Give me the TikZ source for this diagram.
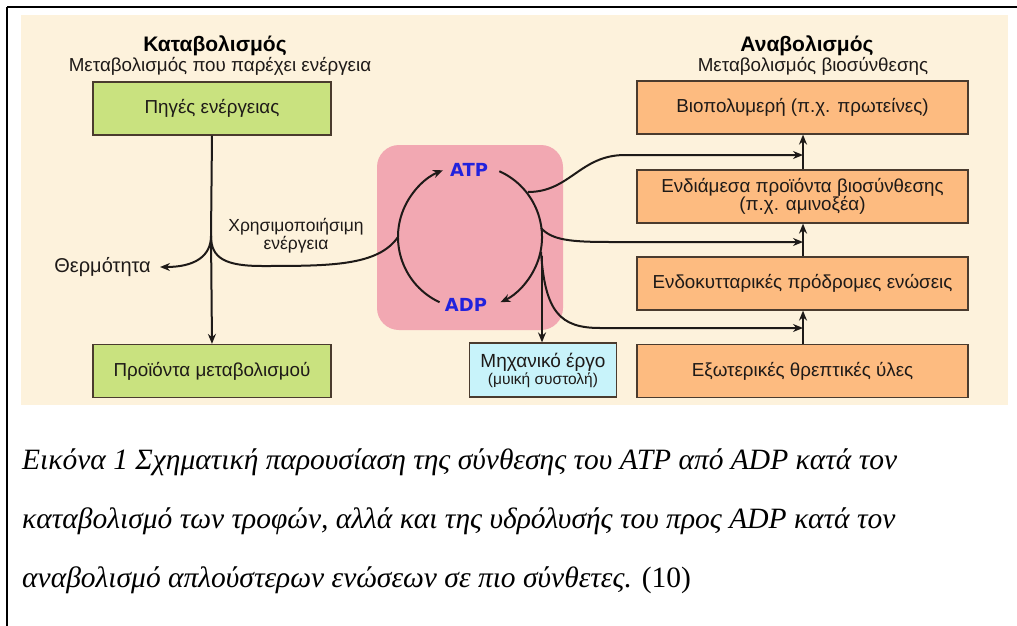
\documentclass[tikz,border=0pt]{standalone}
\usepackage{fontspec}
\setmainfont{Liberation Serif}
\newfontfamily\dsans{Liberation Sans}
\newfontfamily\vsans{DejaVu Sans}
\usetikzlibrary{arrows.meta,calc}
\definecolor{cream}{HTML}{FDF2DC}
\definecolor{greenbox}{HTML}{C9E27F}
\definecolor{orangebox}{HTML}{FDBB80}
\definecolor{pinkbg}{HTML}{F2A8B2}
\definecolor{cyanbox}{HTML}{C8F3FA}
\definecolor{edge}{HTML}{4A3B2E}
\definecolor{atpblue}{HTML}{2222DD}
\definecolor{ink}{HTML}{1E1A18}
\tikzset{
  box/.style={draw=edge, line width=1.2pt, inner sep=0pt, align=center, text=ink, font=\dsans\fontsize{18.8}{21}\selectfont},
  gbox/.style={box, fill=greenbox, minimum width=238pt, minimum height=53pt},
  obox/.style={box, fill=orangebox, minimum width=331pt, minimum height=53pt},
  conn/.style={draw=ink, line width=2pt, -{Stealth[length=10pt,width=8pt]}},
  plain/.style={draw=ink, line width=2pt},
  lbl/.style={font=\dsans\fontsize{18.8}{21}\selectfont, text=ink, inner sep=0pt},
  ttl/.style={font=\dsans\bfseries\fontsize{21}{24}\selectfont, text=black, inner sep=0pt},
  mol/.style={font=\vsans\bfseries\fontsize{18}{20}\selectfont, text=atpblue, inner sep=0pt},
  captionline/.style={font=\fontsize{29.5}{32}\selectfont\itshape, anchor=west, inner sep=0pt}
}
\begin{document}
\begin{tikzpicture}[x=1pt,y=-1pt]
\useasboundingbox (0,0) rectangle (1017,626);
\fill[white] (0,0) rectangle (1017,626);
% frame
\draw[black, line width=2.6pt] (7,7) -- (1017,7);
\draw[black, line width=2.6pt] (7,7) -- (7,626);
% background
\fill[cream] (21,15) rectangle (1008,405);
% headings
\node[ttl] (katT) at (215,46) {Καταβολισμός};
\node[lbl] (katS) at (220,66) {Μεταβολισμός που παρέχει ενέργεια};
\node[ttl] (anaT) at (807,46) {Αναβολισμός};
\node[lbl] (anaS) at (813,66) {Μεταβολισμός βιοσύνθεσης};
% left boxes
\node[gbox] (src) at (212,108.5) {Πηγές ενέργειας};
\node[gbox] (prod) at (212,371) {Προϊόντα μεταβολισμού};
% right boxes
\node[obox] (b1) at (802.5,107.5) {Βιοπολυμερή (π.χ. πρωτείνες)};
\node[obox] (b2) at (802.5,196.5) {Ενδιάμεσα προϊόντα βιοσύνθεσης\\[-3pt](π.χ. αμινοξέα)};
\node[obox] (b3) at (802.5,283.5) {Ενδοκυτταρικές πρόδρομες ενώσεις};
\node[obox] (b4) at (802.5,371) {Εξωτερικές θρεπτικές ύλες};
% pink area
\fill[pinkbg, rounded corners=22pt] (377,145) rectangle (563,330);
% mechanical work
\node[box, fill=cyanbox, minimum width=147pt, minimum height=54pt, font=\dsans\fontsize{19}{21}\selectfont] (mech) at (543,370)
  {Μηχανικό έργο\\[-4pt]{\fontsize{15.5}{17}\selectfont (μυική συστολή)}};
% ATP / ADP
\node[mol] (atp) at (469,170) {ATP};
\node[mol] (adp) at (466,305) {ADP};
\coordinate (cc) at (470,237);
% cycle arcs
\draw[conn] ($(cc)+(245:72pt)$) coordinate (adpL) arc[start angle=245, end angle=112, radius=72pt];
\draw[conn] ($(cc)+(66:72pt)$) coordinate (atpR) arc[start angle=66, end angle=-65, radius=72pt];
% catabolism
\coordinate (br) at (211,236);
\draw[plain] (src.south) -- (br);
\draw[conn] (br) -- (prod.north);
\node[lbl, anchor=east, font=\dsans\fontsize{20}{22}\selectfont] (heat) at (151,267) {Θερμότητα};
\coordinate (heatTip) at (160,267);
\draw[conn] (br) .. controls (211,256) and (195,267) .. (heatTip);
\coordinate (cycL) at (398,237);
\draw[plain] (br) .. controls (211,258) and (225,266) .. (262,266) .. controls (330,266) and (378,266) .. (cycL);
\node[lbl, align=center, font=\dsans\fontsize{17.5}{20}\selectfont] (usable) at (296,236) {Χρησιμοποιήσιμη\\[-2pt]ενέργεια};
% anabolism connectors
\coordinate (v1) at (803,155);
\coordinate (v2) at (803,242);
\coordinate (v3) at (803,328);
\draw[conn] (b2.north -| v1) -- (b1.south -| v1);
\draw[conn] (b3.north -| v1) -- (b2.south -| v1);
\draw[conn] (b4.north -| v1) -- (b3.south -| v1);
\coordinate (s1) at (528,192);
\coordinate (s2) at (541,228);
\coordinate (s3) at (541,252);
\draw[conn] (s1) .. controls (570,192) and (580,155) .. (625,155) -- (v1);
\draw[conn] (s2) .. controls (552,240) and (570,242) .. (610,242) -- (v2);
\draw[conn] (s3) .. controls (545,312) and (560,328) .. (600,328) -- (v3);
\coordinate (s4) at (542,256);
\draw[conn] (s4) -- (mech.north -| s4);
% caption
\node[captionline] (c1) at (22,462) {Εικόνα 1 Σχηματική παρουσίαση της σύνθεσης του ATP από ADP κατά τον};
\node[captionline] (c2) at (22,521) {καταβολισμό των τροφών, αλλά και της υδρόλυσής του προς ADP κατά τον};
\node[captionline] (c3) at (22,580) {αναβολισμό απλούστερων ενώσεων σε πιο σύνθετες. {\upshape (10)}};
\end{tikzpicture}
\end{document}
